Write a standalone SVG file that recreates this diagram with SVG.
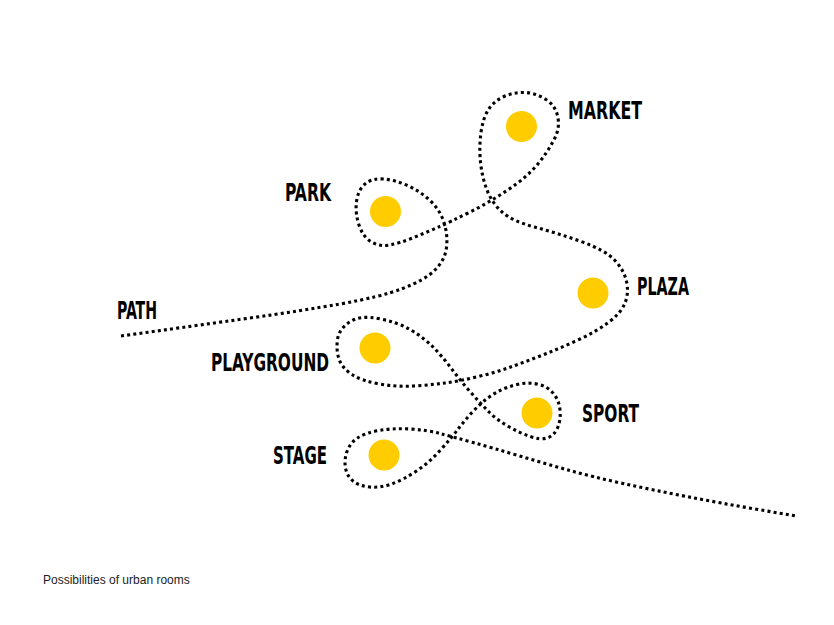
<svg xmlns="http://www.w3.org/2000/svg" width="834" height="625" viewBox="0 0 834 625">
<style>
.bg{fill:#ffffff}
.route{fill:none;stroke:#000;stroke-width:3.1;stroke-dasharray:3 3.2}
.room{fill:#FFCC00}
.lbl{font-family:"Liberation Sans Narrow","DejaVu Sans Condensed","Liberation Sans",sans-serif;font-weight:bold;font-size:24px;fill:#000}
.cap{font-family:"Liberation Sans",Arial,sans-serif;font-size:12px;fill:#222}
</style>
<rect class="bg" x="0" y="0" width="834" height="625"/>
<g id="connectors">
<path class="route" d="M121,336 L160.5,330.5 Q200,325 250,318 Q300,311 340,304 Q380,297 402.5,288.5 Q425,280 435,270 Q445,260 446.5,247.5 Q448,235 444,222.5 Q440,210 430,200.5 Q420,191 407.5,185.5 Q395,180 383.5,179 Q372,178 365,184 Q358,190 356.5,201.5 Q355,213 359,225 Q363,237 371.5,242 Q380,247 390,245 Q400,243 412.5,238 Q425,233 437.5,227.5 Q450,222 470,212 Q490,202 508.5,189.5 Q527,177 537,165 Q547,153 553,141.5 Q560,130 558,118 Q556,106 546,99.5 Q536,93 525,92.5 Q514,92 504,96.5 Q494,101 488.5,109.5 Q483,118 481,132.5 Q479,147 480.5,162 Q482,177 487,190 Q492,203 502,212 Q512,221 534.5,227 Q557,233 581,241.5 Q605,250 614.5,260 Q624,270 626.5,281.5 Q629,293 625,303 Q621,313 609,322 Q597,331 580,339 Q563,347 546.5,353.5 Q530,360 513.5,366 Q497,372 478.5,376.5 Q460,381 445,383 Q430,385 413.5,386 Q397,387 379.5,384 Q362,381 352,374.5 Q342,368 339,359 Q336,350 337.5,339.5 Q339,329 349.5,322 Q360,315 378.5,318.5 Q397,322 410,329.5 Q423,337 432.5,346.5 Q442,356 451,368 Q460,380 470,391.5 Q480,403 488.5,411.5 Q497,420 508.5,426.5 Q520,433 530,436.5 Q540,440 547,438 Q554,436 557.5,428 Q561,420 560,410 Q559,400 553,393 Q547,386 537,384 Q527,382 517,384.5 Q507,387 500,390.5 Q493,394 486.5,399 Q480,404 472.5,412 Q465,420 458.5,428.5 Q452,437 441,449.5 Q430,462 416.5,471 Q403,480 391.5,484 Q380,488 369.5,487 Q359,486 353,481 Q347,476 345.5,468 Q344,460 347,451.5 Q350,443 357.5,438 Q365,433 379,430.5 Q393,428 410,429 Q427,430 440,433.5 Q453,437 473,442.5 Q493,448 518,455.5 Q543,463 568,470 Q593,477 623,483.5 Q653,490 686.5,496.5 Q720,503 758,509.5 L796,516"/>
</g>
<g id="path-label"><text class="lbl" x="117" y="319" textLength="40" lengthAdjust="spacingAndGlyphs">PATH</text></g>
<g id="market"><circle class="room" cx="521.5" cy="126.5" r="15.5"/><text class="lbl" x="568" y="119" textLength="74" lengthAdjust="spacingAndGlyphs">MARKET</text></g>
<g id="park"><circle class="room" cx="385.5" cy="211.5" r="15.5"/><text class="lbl" x="285" y="201" textLength="46" lengthAdjust="spacingAndGlyphs">PARK</text></g>
<g id="plaza"><circle class="room" cx="593" cy="293" r="15.5"/><text class="lbl" x="637" y="295" textLength="52" lengthAdjust="spacingAndGlyphs">PLAZA</text></g>
<g id="playground"><circle class="room" cx="375" cy="348" r="15.5"/><text class="lbl" x="211" y="371" textLength="118" lengthAdjust="spacingAndGlyphs">PLAYGROUND</text></g>
<g id="sport"><circle class="room" cx="537" cy="413" r="15.5"/><text class="lbl" x="582" y="422" textLength="57" lengthAdjust="spacingAndGlyphs">SPORT</text></g>
<g id="stage"><circle class="room" cx="384" cy="455" r="15.5"/><text class="lbl" x="273" y="464" textLength="54" lengthAdjust="spacingAndGlyphs">STAGE</text></g>
<g id="caption"><text class="cap" x="43" y="584">Possibilities of urban rooms</text></g>
</svg>
